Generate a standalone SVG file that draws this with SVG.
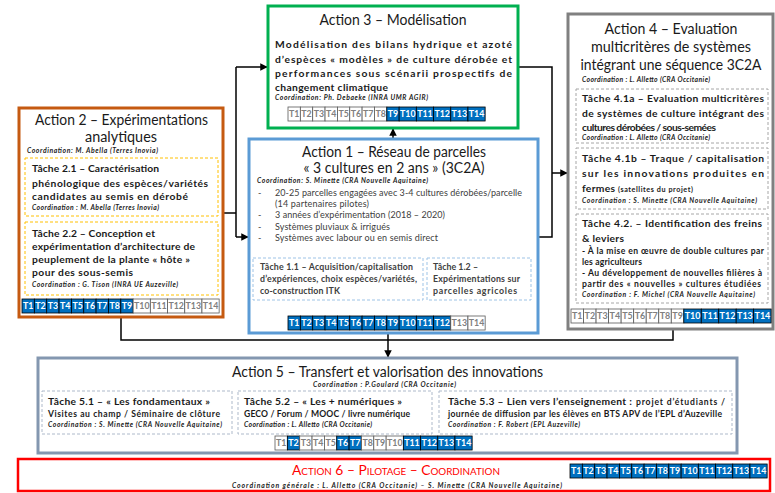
<svg xmlns="http://www.w3.org/2000/svg" width="775" height="493" viewBox="0 0 775 493">
<style>
text{font-family:Lato,"Liberation Sans",sans-serif;fill:#1a1a1a}
.ttl{font-size:14.5px}
.tm{text-anchor:middle}
.b{font-size:10.3px;font-weight:700}
.bs{font-size:8.6px;font-weight:700}
.co{font-size:6.8px;font-weight:700;font-style:italic;fill:#222}
.bul{font-size:9px;fill:#404040}
.tk{font-size:8.8px;font-weight:700;fill:#404040}
.box{fill:#fff;stroke-width:3}
.dash{fill:#fff;stroke-width:1;stroke-dasharray:3 2}
.c1{fill:#0070C0;stroke:#000;stroke-width:0.8}
.c0{fill:#fff;stroke:#595959;stroke-width:0.8}
.t1{font-size:8.8px;font-weight:700;fill:#fff;text-anchor:middle}
.t0{font-size:8.8px;font-weight:700;fill:#808080;text-anchor:middle}
.ln{fill:none;stroke:#000;stroke-width:1.5}
</style>
<defs>
<marker id="ah" viewBox="0 0 10 10" refX="9" refY="5" markerWidth="5" markerHeight="5" orient="auto" markerUnits="strokeWidth"><path d="M0,0 L10,5 L0,10 z" fill="#000"/></marker>
</defs>

<g id="connectors">
<polyline class="ln" points="223,213 236,213"/>
<line class="ln" x1="236" y1="67" x2="236" y2="237"/>
<line class="ln" x1="236" y1="67" x2="267" y2="67" marker-end="url(#ah)"/>
<line class="ln" x1="236" y1="237" x2="248" y2="237" marker-end="url(#ah)"/>
<line class="ln" x1="393" y1="139" x2="393" y2="129" marker-end="url(#ah)"/>
<polyline class="ln" points="518,67 552,67 552,237 538,237"/>
<line class="ln" x1="552" y1="173" x2="567" y2="173" marker-end="url(#ah)"/>
<polyline class="ln" points="121,317 121,340 673,340 673,329"/>
<line class="ln" x1="388" y1="333" x2="388" y2="340"/>
<line class="ln" x1="388" y1="340" x2="388" y2="357" marker-end="url(#ah)"/>
</g>

<g id="action3">
<rect class="box" x="268" y="6" width="250" height="122" stroke="#00B050"/>
<text class="ttl tm" x="393" y="25" textLength="147" lengthAdjust="spacingAndGlyphs">Action 3 – Modélisation</text>
<text class="b" x="275" y="48" textLength="237" lengthAdjust="spacing">Modélisation des bilans hydrique et azoté</text>
<text class="b" x="275" y="63" textLength="237" lengthAdjust="spacing">d’espèces « modèles » de culture dérobée et</text>
<text class="b" x="275" y="77" textLength="237" lengthAdjust="spacing">performances sous scénarii prospectifs de</text>
<text class="b" x="275" y="91" textLength="113" lengthAdjust="spacing">changement climatique</text>
<text class="co" x="275" y="100" textLength="153" lengthAdjust="spacing">Coordination: Ph. Debaeke (INRA UMR AGIR)</text>
<g transform="translate(288,107)">
<rect class="c0" x="0" y="0" width="12.35" height="14"/><text class="t0" x="6.18" y="10.3">T1</text>
<rect class="c0" x="12.35" y="0" width="12.35" height="14"/><text class="t0" x="18.53" y="10.3">T2</text>
<rect class="c0" x="24.7" y="0" width="12.35" height="14"/><text class="t0" x="30.88" y="10.3">T3</text>
<rect class="c0" x="37.05" y="0" width="12.35" height="14"/><text class="t0" x="43.23" y="10.3">T4</text>
<rect class="c0" x="49.4" y="0" width="12.35" height="14"/><text class="t0" x="55.58" y="10.3">T5</text>
<rect class="c0" x="61.75" y="0" width="12.35" height="14"/><text class="t0" x="67.93" y="10.3">T6</text>
<rect class="c0" x="74.1" y="0" width="12.35" height="14"/><text class="t0" x="80.28" y="10.3">T7</text>
<rect class="c0" x="86.45" y="0" width="12.35" height="14"/><text class="t0" x="92.63" y="10.3">T8</text>
<rect class="c1" x="98.8" y="0" width="12.35" height="14"/><text class="t1" x="104.98" y="10.3">T9</text>
<rect class="c1" x="111.15" y="0" width="17.2" height="14"/><text class="t1" x="119.75" y="10.3">T10</text>
<rect class="c1" x="128.35" y="0" width="17.2" height="14"/><text class="t1" x="136.95" y="10.3">T11</text>
<rect class="c1" x="145.55" y="0" width="17.2" height="14"/><text class="t1" x="154.15" y="10.3">T12</text>
<rect class="c1" x="162.75" y="0" width="17.2" height="14"/><text class="t1" x="171.35" y="10.3">T13</text>
<rect class="c1" x="179.95" y="0" width="17.2" height="14"/><text class="t1" x="188.55" y="10.3">T14</text>
</g>
</g>

<g id="action4">
<rect class="box" x="568" y="14" width="205" height="315" stroke="#808080"/>
<text class="ttl tm" x="671" y="34" textLength="133" lengthAdjust="spacingAndGlyphs">Action 4 – Evaluation</text>
<text class="ttl tm" x="671" y="52" textLength="160" lengthAdjust="spacingAndGlyphs">multicritères de systèmes</text>
<text class="ttl tm" x="671" y="70" textLength="181" lengthAdjust="spacingAndGlyphs">intégrant une séquence 3C2A</text>
<text class="co" x="582" y="81.5" textLength="128" lengthAdjust="spacing">Coordination : L. Alletto (CRA Occitanie)</text>
<rect class="dash" x="576" y="89" width="192" height="54" stroke="#A6A6A6"/>
<text class="b" x="582" y="102" textLength="182" lengthAdjust="spacing">Tâche 4.1a – Evaluation multicritères</text>
<text class="b" x="582" y="117" textLength="182" lengthAdjust="spacing">de systèmes de culture intégrant des</text>
<text class="b" x="582" y="131" textLength="134" lengthAdjust="spacing">cultures dérobées / sous-semées</text>
<text class="co" x="582" y="139.5" textLength="128" lengthAdjust="spacing">Coordination : L. Alletto (CRA Occitanie)</text>
<rect class="dash" x="576" y="148" width="192" height="61" stroke="#A6A6A6"/>
<text class="b" x="582" y="162" textLength="182" lengthAdjust="spacing">Tâche 4.1b – Traque / capitalisation</text>
<text class="b" x="582" y="177" textLength="182" lengthAdjust="spacing">sur les innovations produites en</text>
<text class="b" x="582" y="192" textLength="33" lengthAdjust="spacing">fermes</text>
<text class="bs" x="618" y="192" style="font-size:7.2px" textLength="75" lengthAdjust="spacing">(satellites du projet)</text>
<text class="co" x="582" y="203" textLength="175" lengthAdjust="spacing">Coordination : S. Minette (CRA Nouvelle Aquitaine)</text>
<rect class="dash" x="576" y="214" width="192" height="89" stroke="#A6A6A6"/>
<text class="b" x="582" y="227" textLength="180" lengthAdjust="spacing">Tâche 4.2. – Identification des freins</text>
<text class="b" x="582" y="242" textLength="42" lengthAdjust="spacing">&amp; leviers</text>
<text class="bs" x="582" y="253.5" textLength="182" lengthAdjust="spacing">- À la mise en œuvre de double cultures par</text>
<text class="bs" x="582" y="264.5" textLength="60" lengthAdjust="spacing">les agriculteurs</text>
<text class="bs" x="582" y="276" textLength="180" lengthAdjust="spacing">- Au développement de nouvelles filières à</text>
<text class="bs" x="582" y="287" textLength="179" lengthAdjust="spacing">partir des « nouvelles » cultures étudiées</text>
<text class="co" x="582" y="297" textLength="173" lengthAdjust="spacing">Coordination : F. Michel (CRA Nouvelle Aquitaine)</text>
<g transform="translate(571,309) scale(1.015,1)">
<rect class="c0" x="0" y="0" width="12.35" height="14"/><text class="t0" x="6.18" y="10.3">T1</text>
<rect class="c0" x="12.35" y="0" width="12.35" height="14"/><text class="t0" x="18.53" y="10.3">T2</text>
<rect class="c0" x="24.7" y="0" width="12.35" height="14"/><text class="t0" x="30.88" y="10.3">T3</text>
<rect class="c0" x="37.05" y="0" width="12.35" height="14"/><text class="t0" x="43.23" y="10.3">T4</text>
<rect class="c0" x="49.4" y="0" width="12.35" height="14"/><text class="t0" x="55.58" y="10.3">T5</text>
<rect class="c0" x="61.75" y="0" width="12.35" height="14"/><text class="t0" x="67.93" y="10.3">T6</text>
<rect class="c0" x="74.1" y="0" width="12.35" height="14"/><text class="t0" x="80.28" y="10.3">T7</text>
<rect class="c0" x="86.45" y="0" width="12.35" height="14"/><text class="t0" x="92.63" y="10.3">T8</text>
<rect class="c0" x="98.8" y="0" width="12.35" height="14"/><text class="t0" x="104.98" y="10.3">T9</text>
<rect class="c1" x="111.15" y="0" width="17.2" height="14"/><text class="t1" x="119.75" y="10.3">T10</text>
<rect class="c1" x="128.35" y="0" width="17.2" height="14"/><text class="t1" x="136.95" y="10.3">T11</text>
<rect class="c1" x="145.55" y="0" width="17.2" height="14"/><text class="t1" x="154.15" y="10.3">T12</text>
<rect class="c1" x="162.75" y="0" width="17.2" height="14"/><text class="t1" x="171.35" y="10.3">T13</text>
<rect class="c1" x="179.95" y="0" width="17.2" height="14"/><text class="t1" x="188.55" y="10.3">T14</text>
</g>
</g>

<g id="action2">
<rect class="box" x="19" y="108" width="204" height="209" stroke="#C55A11"/>
<text class="ttl tm" x="121.5" y="125" textLength="173" lengthAdjust="spacingAndGlyphs">Action 2 – Expérimentations</text>
<text class="ttl tm" x="121" y="142" textLength="72" lengthAdjust="spacingAndGlyphs">analytiques</text>
<text class="co" x="27" y="153" textLength="131" lengthAdjust="spacing">Coordination: M. Abella (Terres Inovia)</text>
<rect class="dash" x="25" y="158" width="193" height="58" stroke="#FFC000"/>
<text class="b" x="32" y="172" textLength="127" lengthAdjust="spacing">Tâche 2.1 – Caractérisation</text>
<text class="b" x="32" y="187" textLength="176" lengthAdjust="spacing">phénologique des espèces/variétés</text>
<text class="b" x="32" y="200" textLength="156" lengthAdjust="spacing">candidates au semis en dérobé</text>
<text class="co" x="32" y="209.5" textLength="127" lengthAdjust="spacing">Coordination : M. Abella (Terres Inovia)</text>
<rect class="dash" x="25" y="222" width="193" height="73" stroke="#FFC000"/>
<text class="b" x="32" y="237" textLength="123" lengthAdjust="spacing">Tâche 2.2 – Conception et</text>
<text class="b" x="32" y="250" textLength="163" lengthAdjust="spacing">expérimentation d’architecture de</text>
<text class="b" x="32" y="263" textLength="158" lengthAdjust="spacing">peuplement de la plante « hôte »</text>
<text class="b" x="32" y="276" textLength="101" lengthAdjust="spacing">pour des sous-semis</text>
<text class="co" x="32" y="287" textLength="146" lengthAdjust="spacing">Coordination : G. Tison (INRA UE Auzeville)</text>
<g transform="translate(22,299)">
<rect class="c1" x="0" y="0" width="12.35" height="14"/><text class="t1" x="6.18" y="10.3">T1</text>
<rect class="c1" x="12.35" y="0" width="12.35" height="14"/><text class="t1" x="18.53" y="10.3">T2</text>
<rect class="c1" x="24.7" y="0" width="12.35" height="14"/><text class="t1" x="30.88" y="10.3">T3</text>
<rect class="c1" x="37.05" y="0" width="12.35" height="14"/><text class="t1" x="43.23" y="10.3">T4</text>
<rect class="c1" x="49.4" y="0" width="12.35" height="14"/><text class="t1" x="55.58" y="10.3">T5</text>
<rect class="c1" x="61.75" y="0" width="12.35" height="14"/><text class="t1" x="67.93" y="10.3">T6</text>
<rect class="c1" x="74.1" y="0" width="12.35" height="14"/><text class="t1" x="80.28" y="10.3">T7</text>
<rect class="c1" x="86.45" y="0" width="12.35" height="14"/><text class="t1" x="92.63" y="10.3">T8</text>
<rect class="c1" x="98.8" y="0" width="12.35" height="14"/><text class="t1" x="104.98" y="10.3">T9</text>
<rect class="c0" x="111.15" y="0" width="17.2" height="14"/><text class="t0" x="119.75" y="10.3">T10</text>
<rect class="c0" x="128.35" y="0" width="17.2" height="14"/><text class="t0" x="136.95" y="10.3">T11</text>
<rect class="c0" x="145.55" y="0" width="17.2" height="14"/><text class="t0" x="154.15" y="10.3">T12</text>
<rect class="c0" x="162.75" y="0" width="17.2" height="14"/><text class="t0" x="171.35" y="10.3">T13</text>
<rect class="c0" x="179.95" y="0" width="17.2" height="14"/><text class="t0" x="188.55" y="10.3">T14</text>
</g>
</g>

<g id="action1">
<rect class="box" x="249" y="139" width="289" height="194" stroke="#5B9BD5"/>
<text class="ttl tm" x="394" y="157" textLength="184" lengthAdjust="spacingAndGlyphs">Action 1 – Réseau de parcelles</text>
<text class="ttl tm" x="394" y="173" textLength="181" lengthAdjust="spacingAndGlyphs">« 3 cultures en 2 ans » (3C2A)</text>
<text class="co" x="257" y="183" textLength="171" lengthAdjust="spacing">Coordination: S. Minette (CRA Nouvelle Aquitaine)</text>
<text class="bul" x="258" y="196">-</text>
<text class="bul" x="275" y="196" textLength="247" lengthAdjust="spacing">20-25 parcelles engagées avec 3-4 cultures dérobées/parcelle</text>
<text class="bul" x="275" y="207" textLength="94" lengthAdjust="spacing">(14 partenaires pilotes)</text>
<text class="bul" x="258" y="218">-</text>
<text class="bul" x="275" y="218" textLength="170" lengthAdjust="spacing">3 années d’expérimentation (2018 – 2020)</text>
<text class="bul" x="258" y="229.5">-</text>
<text class="bul" x="275" y="229.5" textLength="115" lengthAdjust="spacing">Systèmes pluviaux &amp; irrigués</text>
<text class="bul" x="258" y="241">-</text>
<text class="bul" x="275" y="241" textLength="163" lengthAdjust="spacing">Systèmes avec labour ou en semis direct</text>
<rect class="dash" x="253" y="258" width="170" height="42" stroke="#9DC3E6"/>
<text class="tk" x="260" y="269.5" textLength="153" lengthAdjust="spacing">Tâche 1.1 – Acquisition/capitalisation</text>
<text class="tk" x="260" y="282" textLength="157" lengthAdjust="spacing">d’expériences, choix espèces/variétés,</text>
<text class="tk" x="260" y="294" textLength="80" lengthAdjust="spacing">co-construction ITK</text>
<rect class="dash" x="427" y="258" width="104" height="42" stroke="#9DC3E6"/>
<text class="tk" x="433" y="269.5" textLength="45" lengthAdjust="spacing">Tâche 1.2 –</text>
<text class="tk" x="433" y="282" textLength="87" lengthAdjust="spacing">Expérimentations sur</text>
<text class="tk" x="433" y="294" textLength="84" lengthAdjust="spacing">parcelles agricoles</text>
<g transform="translate(288,316)">
<rect class="c1" x="0" y="0" width="12.35" height="14"/><text class="t1" x="6.18" y="10.3">T1</text>
<rect class="c1" x="12.35" y="0" width="12.35" height="14"/><text class="t1" x="18.53" y="10.3">T2</text>
<rect class="c1" x="24.7" y="0" width="12.35" height="14"/><text class="t1" x="30.88" y="10.3">T3</text>
<rect class="c1" x="37.05" y="0" width="12.35" height="14"/><text class="t1" x="43.23" y="10.3">T4</text>
<rect class="c1" x="49.4" y="0" width="12.35" height="14"/><text class="t1" x="55.58" y="10.3">T5</text>
<rect class="c1" x="61.75" y="0" width="12.35" height="14"/><text class="t1" x="67.93" y="10.3">T6</text>
<rect class="c1" x="74.1" y="0" width="12.35" height="14"/><text class="t1" x="80.28" y="10.3">T7</text>
<rect class="c1" x="86.45" y="0" width="12.35" height="14"/><text class="t1" x="92.63" y="10.3">T8</text>
<rect class="c1" x="98.8" y="0" width="12.35" height="14"/><text class="t1" x="104.98" y="10.3">T9</text>
<rect class="c1" x="111.15" y="0" width="17.2" height="14"/><text class="t1" x="119.75" y="10.3">T10</text>
<rect class="c1" x="128.35" y="0" width="17.2" height="14"/><text class="t1" x="136.95" y="10.3">T11</text>
<rect class="c1" x="145.55" y="0" width="17.2" height="14"/><text class="t1" x="154.15" y="10.3">T12</text>
<rect class="c0" x="162.75" y="0" width="17.2" height="14"/><text class="t0" x="171.35" y="10.3">T13</text>
<rect class="c0" x="179.95" y="0" width="17.2" height="14"/><text class="t0" x="188.55" y="10.3">T14</text>
</g>
</g>

<g id="action5">
<rect class="box" x="38" y="358" width="699" height="95" stroke="#8497B0"/>
<text class="ttl tm" x="387.5" y="377" textLength="311" lengthAdjust="spacingAndGlyphs">Action 5 – Transfert et valorisation des innovations</text>
<text class="co tm" x="384.5" y="387" textLength="143" lengthAdjust="spacing">Coordination : P.Goulard (CRA Occitanie)</text>
<rect class="dash" x="42" y="391" width="190" height="43" stroke="#ADB9CA"/>
<text class="b" x="48" y="405" textLength="162" lengthAdjust="spacing">Tâche 5.1 – « Les fondamentaux »</text>
<text class="bs" x="48" y="416.5" textLength="172" lengthAdjust="spacing">Visites au champ / Séminaire de clôture</text>
<text class="co" x="48" y="427" textLength="174" lengthAdjust="spacing">Coordination : S. Minette (CRA Nouvelle Aquitaine)</text>
<rect class="dash" x="238" y="391" width="194" height="43" stroke="#ADB9CA"/>
<text class="b" x="244" y="405" textLength="158" lengthAdjust="spacing">Tâche 5.2 – « Les + numériques »</text>
<text class="bs" x="244" y="416.5" textLength="166" lengthAdjust="spacing">GECO / Forum / MOOC / livre numérique</text>
<text class="co" x="244" y="427" textLength="128" lengthAdjust="spacing">Coordination : L. Alletto (CRA Occitanie)</text>
<rect class="dash" x="439" y="391" width="293" height="43" stroke="#ADB9CA"/>
<text class="b" x="448" y="405" textLength="184" lengthAdjust="spacing">Tâche 5.3 – Lien vers l’enseignement :</text>
<text class="bs" x="636" y="405" textLength="89" lengthAdjust="spacing">projet d’étudiants /</text>
<text class="bs" x="448" y="416.5" textLength="274" lengthAdjust="spacing">journée de diffusion par les élèves en BTS APV de l’EPL d’Auzeville</text>
<text class="co" x="448" y="427" textLength="132" lengthAdjust="spacing">Coordination : F. Robert (EPL Auzeville)</text>
<g transform="translate(275,436)">
<rect class="c0" x="0" y="0" width="12.35" height="14"/><text class="t0" x="6.18" y="10.3">T1</text>
<rect class="c1" x="12.35" y="0" width="12.35" height="14"/><text class="t1" x="18.53" y="10.3">T2</text>
<rect class="c0" x="24.7" y="0" width="12.35" height="14"/><text class="t0" x="30.88" y="10.3">T3</text>
<rect class="c0" x="37.05" y="0" width="12.35" height="14"/><text class="t0" x="43.23" y="10.3">T4</text>
<rect class="c0" x="49.4" y="0" width="12.35" height="14"/><text class="t0" x="55.58" y="10.3">T5</text>
<rect class="c1" x="61.75" y="0" width="12.35" height="14"/><text class="t1" x="67.93" y="10.3">T6</text>
<rect class="c1" x="74.1" y="0" width="12.35" height="14"/><text class="t1" x="80.28" y="10.3">T7</text>
<rect class="c0" x="86.45" y="0" width="12.35" height="14"/><text class="t0" x="92.63" y="10.3">T8</text>
<rect class="c0" x="98.8" y="0" width="12.35" height="14"/><text class="t0" x="104.98" y="10.3">T9</text>
<rect class="c0" x="111.15" y="0" width="17.2" height="14"/><text class="t0" x="119.75" y="10.3">T10</text>
<rect class="c1" x="128.35" y="0" width="17.2" height="14"/><text class="t1" x="136.95" y="10.3">T11</text>
<rect class="c1" x="145.55" y="0" width="17.2" height="14"/><text class="t1" x="154.15" y="10.3">T12</text>
<rect class="c1" x="162.75" y="0" width="17.2" height="14"/><text class="t1" x="171.35" y="10.3">T13</text>
<rect class="c1" x="179.95" y="0" width="17.2" height="14"/><text class="t1" x="188.55" y="10.3">T14</text>
</g>
</g>

<g id="action6">
<rect class="box" x="18" y="459" width="752" height="32" stroke="#FF0000" style="stroke-width:2.5"/>
<text class="tm" x="396" y="474.5" style="font-size:14px;font-variant:small-caps;fill:#FF0000" textLength="208" lengthAdjust="spacingAndGlyphs">Action 6 – Pilotage – Coordination</text>
<text class="co tm" x="397" y="487.5" textLength="330" lengthAdjust="spacing">Coordination générale : L. Alletto (CRA Occitanie) – S. Minette (CRA Nouvelle Aquitaine)</text>
<g transform="translate(570,464)">
<rect class="c1" x="0" y="0" width="12.35" height="14"/><text class="t1" x="6.18" y="10.3">T1</text>
<rect class="c1" x="12.35" y="0" width="12.35" height="14"/><text class="t1" x="18.53" y="10.3">T2</text>
<rect class="c1" x="24.7" y="0" width="12.35" height="14"/><text class="t1" x="30.88" y="10.3">T3</text>
<rect class="c1" x="37.05" y="0" width="12.35" height="14"/><text class="t1" x="43.23" y="10.3">T4</text>
<rect class="c1" x="49.4" y="0" width="12.35" height="14"/><text class="t1" x="55.58" y="10.3">T5</text>
<rect class="c1" x="61.75" y="0" width="12.35" height="14"/><text class="t1" x="67.93" y="10.3">T6</text>
<rect class="c1" x="74.1" y="0" width="12.35" height="14"/><text class="t1" x="80.28" y="10.3">T7</text>
<rect class="c1" x="86.45" y="0" width="12.35" height="14"/><text class="t1" x="92.63" y="10.3">T8</text>
<rect class="c1" x="98.8" y="0" width="12.35" height="14"/><text class="t1" x="104.98" y="10.3">T9</text>
<rect class="c1" x="111.15" y="0" width="17.2" height="14"/><text class="t1" x="119.75" y="10.3">T10</text>
<rect class="c1" x="128.35" y="0" width="17.2" height="14"/><text class="t1" x="136.95" y="10.3">T11</text>
<rect class="c1" x="145.55" y="0" width="17.2" height="14"/><text class="t1" x="154.15" y="10.3">T12</text>
<rect class="c1" x="162.75" y="0" width="17.2" height="14"/><text class="t1" x="171.35" y="10.3">T13</text>
<rect class="c1" x="179.95" y="0" width="17.2" height="14"/><text class="t1" x="188.55" y="10.3">T14</text>
</g>
</g>
</svg>
